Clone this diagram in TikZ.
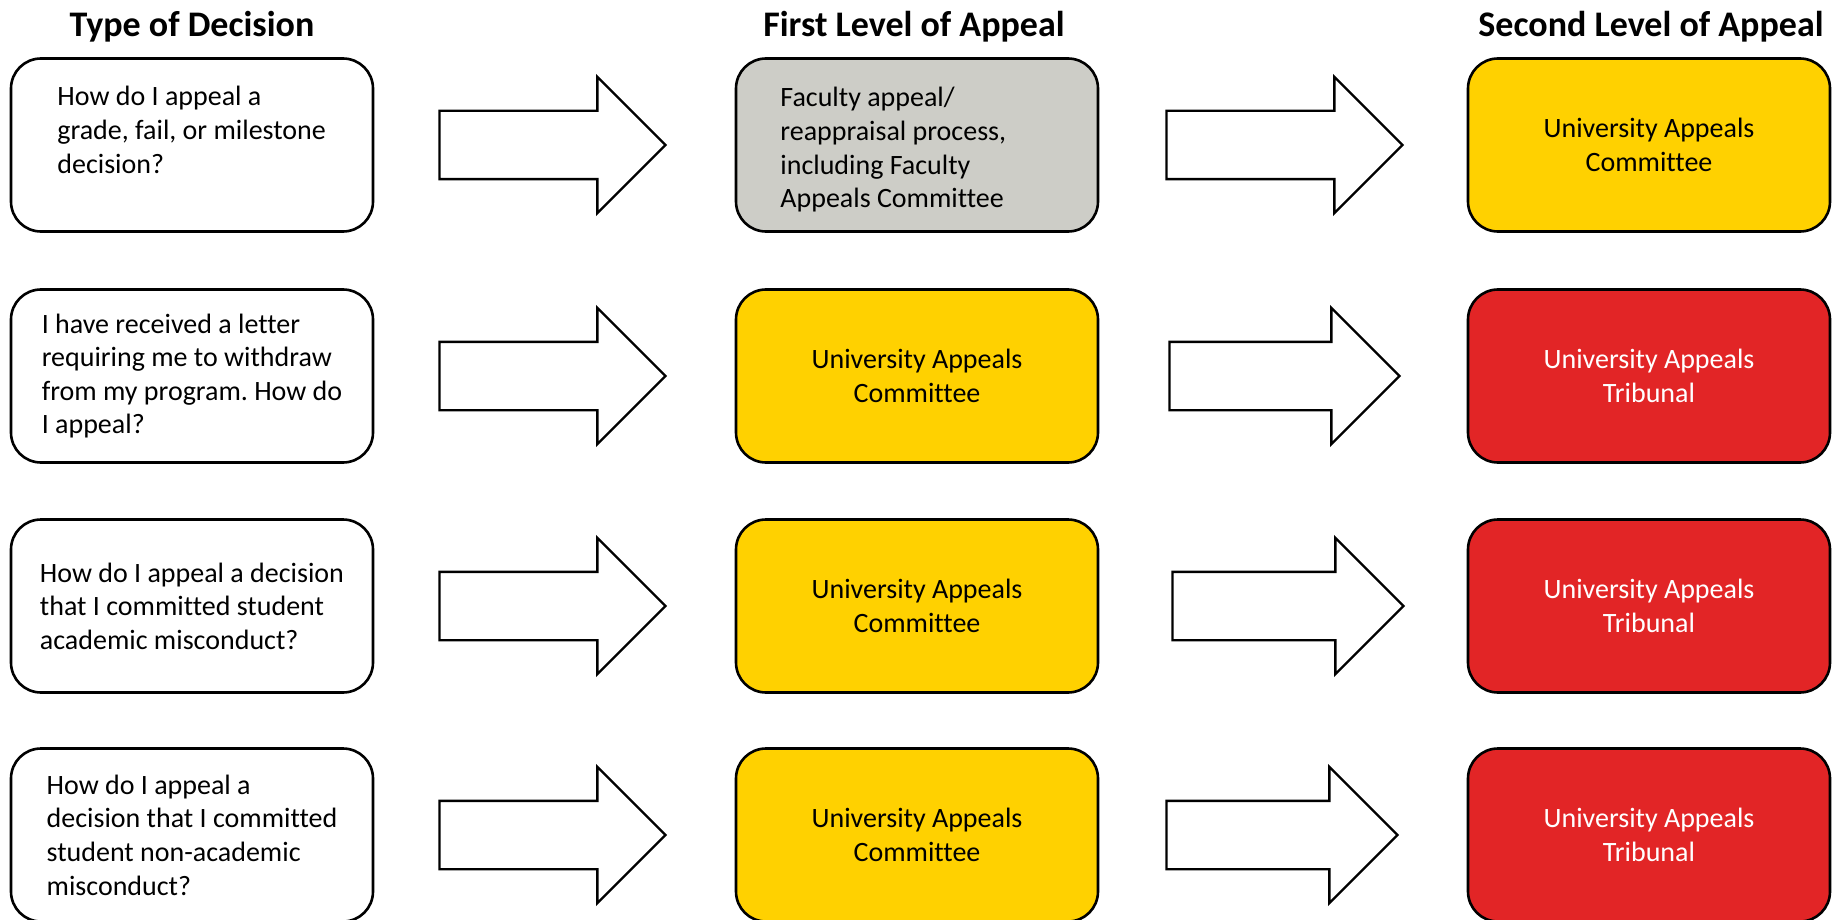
\documentclass[tikz,border=0pt]{standalone}
\usepackage{fontspec}
\setmainfont[Ligatures=NoCommon]{Carlito}
\usetikzlibrary{calc,shapes.arrows}
\definecolor{appealgold}{RGB}{255,209,0}
\definecolor{appealred}{RGB}{226,37,38}
\definecolor{appealgrey}{RGB}{205,205,199}
\frenchspacing

\begin{document}
\begin{tikzpicture}[x=0.5pt,y=-0.5pt,
    every node/.style={font=\fontsize{14pt}{16.8pt}\selectfont},
    box/.style={draw, line width=1.3pt, rounded corners=15pt, minimum width=181pt, minimum height=86.5pt, inner sep=0pt},
    question/.style={box, fill=white, align=left},
    firstlevel/.style={box, fill=appealgold, align=center},
    secondlevel/.style={box, fill=appealred, text=white, align=center},
    header/.style={anchor=base, font=\bfseries\fontsize{18pt}{21pt}\selectfont},
    bigarrow/.style={draw, line width=1.2pt, fill=white, single arrow, single arrow head extend=17pt,
        inner xsep=0pt, inner ysep=16.5pt, anchor=tail}]
  \useasboundingbox (0,0) rectangle (1833,920);

  % column headings
  \node[header] (TypeHead) at (192,37) {Type of Decision};
  \node[header] (FirstHead) at (914,37) {First Level of Appeal};
  \node[header] (SecondHead) at (1651,37) {Second Level of Appeal};

  % type of decision
  \node[question] (Grade) at (192,145) {};
  \node[anchor=north west, align=left, inner sep=0pt] (GradeText) at (57,86)
      {How do I appeal a\\grade, fail, or milestone\\decision?};
  \node[question] (Withdraw) at (192,376)
      {I have received a letter\\requiring me to withdraw\\from my program. How do\\I appeal?};
  \node[question] (Academic) at (192,606)
      {How do I appeal a decision\\that I committed student\\academic misconduct?};
  \node[question] (NonAcademic) at (192,835)
      {How do I appeal a\\decision that I committed\\student non-academic\\misconduct?};

  % first level of appeal
  \node[box, fill=appealgrey] (Faculty) at (917,145) {};
  \node[anchor=north west, align=left, inner sep=0pt] (FacultyText) at (780,87)
      {Faculty appeal/\\reappraisal process,\\including Faculty\\Appeals Committee};
  \node[firstlevel] (UACa) at (917,376) {University Appeals\\Committee};
  \node[firstlevel] (UACb) at (917,606) {University Appeals\\Committee};
  \node[firstlevel] (UACc) at (917,835) {University Appeals\\Committee};

  % second level of appeal
  \node[firstlevel] (UACd) at (1649,145) {University Appeals\\Committee};
  \node[secondlevel] (UATa) at (1649,376) {University Appeals\\Tribunal};
  \node[secondlevel] (UATb) at (1649,606) {University Appeals\\Tribunal};
  \node[secondlevel] (UATc) at (1649,835) {University Appeals\\Tribunal};

  % block arrows between the levels
  \node[bigarrow, minimum height=113pt] (GradeArrow) at ($(Grade.east)+(64,0)$) {};
  \node[bigarrow, minimum height=113pt] (WithdrawArrow) at ($(Withdraw.east)+(64,0)$) {};
  \node[bigarrow, minimum height=113pt] (AcademicArrow) at ($(Academic.east)+(64,0)$) {};
  \node[bigarrow, minimum height=113pt] (NonAcademicArrow) at ($(NonAcademic.east)+(64,0)$) {};

  \node[bigarrow, minimum height=118pt] (FacultyArrow) at ($(Faculty.east)+(66,0)$) {};
  \node[bigarrow, minimum height=115pt] (UACaArrow) at ($(UACa.east)+(69,0)$) {};
  \node[bigarrow, minimum height=115.5pt] (UACbArrow) at ($(UACb.east)+(72,0)$) {};
  \node[bigarrow, minimum height=115.5pt] (UACcArrow) at ($(UACc.east)+(66,0)$) {};
\end{tikzpicture}
\end{document}
